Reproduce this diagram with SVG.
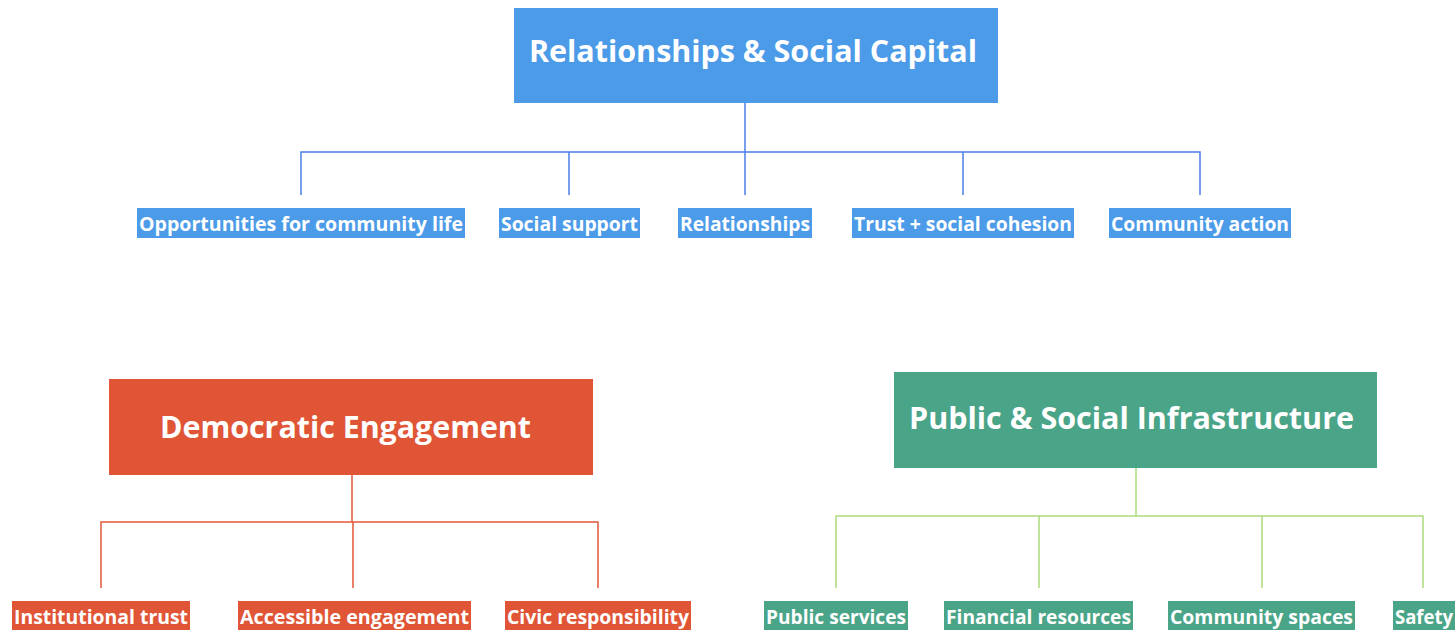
<svg xmlns="http://www.w3.org/2000/svg" width="1455" height="630" viewBox="0 0 1455 630">
<style>
text{font-family:"Open Sans","Noto Sans","Liberation Sans",sans-serif;font-weight:700;fill:#fff;text-anchor:middle}
.t{font-size:31px}
.l{font-size:20px}
.b{fill:#4C9BE8}
.r{fill:#E05536}
.g{fill:#4AA488}
.cb{stroke:#4A7FE6;stroke-width:1.5;fill:none}
.cr{stroke:#E2573B;stroke-width:1.5;fill:none}
.cg{stroke:#ADDB7E;stroke-width:1.5;fill:none}
</style>
<rect width="1455" height="630" fill="#fff"/>
<g id="connectors">
<path class="cb" d="M745 103V152M301 195V152H1200V195M569 152V195M745 152V195M963 152V195"/>
<path class="cr" d="M352 475V522M101 588V522H598V588M353 522V588"/>
<path class="cg" d="M1136 467V516M836 588V516H1423V588M1039 516V588M1262 516V588"/>
</g>
<g id="n-rsc"><rect class="b" x="514" y="8" width="484" height="95"/><text class="t" x="753" y="62" textLength="448" lengthAdjust="spacingAndGlyphs">Relationships &amp; Social Capital</text></g>
<g id="n-ocl"><rect class="b" x="137" y="208" width="328" height="30"/><text class="l" x="301" y="231" textLength="324" lengthAdjust="spacingAndGlyphs">Opportunities for community life</text></g>
<g id="n-ss"><rect class="b" x="499" y="208" width="141" height="30"/><text class="l" x="569.5" y="231" textLength="137" lengthAdjust="spacingAndGlyphs">Social support</text></g>
<g id="n-rel"><rect class="b" x="678" y="208" width="134" height="30"/><text class="l" x="745" y="231" textLength="130" lengthAdjust="spacingAndGlyphs">Relationships</text></g>
<g id="n-tsc"><rect class="b" x="852" y="208" width="222" height="30"/><text class="l" x="963" y="231" textLength="218" lengthAdjust="spacingAndGlyphs">Trust + social cohesion</text></g>
<g id="n-ca"><rect class="b" x="1109" y="208" width="182" height="30"/><text class="l" x="1200" y="231" textLength="178" lengthAdjust="spacingAndGlyphs">Community action</text></g>
<g id="n-de"><rect class="r" x="109" y="379" width="484" height="96"/><text class="t" x="345.5" y="438" textLength="371" lengthAdjust="spacingAndGlyphs">Democratic Engagement</text></g>
<g id="n-it"><rect class="r" x="12" y="601" width="178" height="29"/><text class="l" x="101" y="624" textLength="174" lengthAdjust="spacingAndGlyphs">Institutional trust</text></g>
<g id="n-ae"><rect class="r" x="238" y="601" width="233" height="29"/><text class="l" x="354.5" y="624" textLength="229" lengthAdjust="spacingAndGlyphs">Accessible engagement</text></g>
<g id="n-cr"><rect class="r" x="505" y="601" width="186" height="29"/><text class="l" x="598" y="624" textLength="182" lengthAdjust="spacingAndGlyphs">Civic responsibility</text></g>
<g id="n-psi"><rect class="g" x="894" y="372" width="483" height="96"/><text class="t" x="1131.5" y="429" textLength="445" lengthAdjust="spacingAndGlyphs">Public &amp; Social Infrastructure</text></g>
<g id="n-ps"><rect class="g" x="764" y="601" width="144" height="29"/><text class="l" x="836" y="624" textLength="140" lengthAdjust="spacingAndGlyphs">Public services</text></g>
<g id="n-fr"><rect class="g" x="944" y="601" width="189" height="29"/><text class="l" x="1038.5" y="624" textLength="185" lengthAdjust="spacingAndGlyphs">Financial resources</text></g>
<g id="n-cs"><rect class="g" x="1168" y="601" width="187" height="29"/><text class="l" x="1261.5" y="624" textLength="183" lengthAdjust="spacingAndGlyphs">Community spaces</text></g>
<g id="n-sa"><rect class="g" x="1393" y="601" width="62" height="29"/><text class="l" x="1424" y="624" textLength="58" lengthAdjust="spacingAndGlyphs">Safety</text></g>
</svg>
